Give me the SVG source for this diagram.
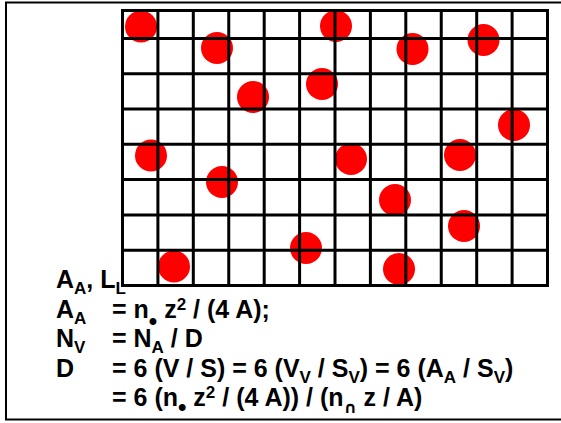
<svg xmlns="http://www.w3.org/2000/svg" width="561" height="423" viewBox="0 0 561 423">
<style>
.frame{fill:#fff;stroke:#000;stroke-width:2}
.dot{fill:#ff0000}
.grid line{stroke:#000;stroke-width:3;stroke-linecap:square}
.t{font-family:"Liberation Sans",Arial,sans-serif;font-weight:bold;font-size:25px;fill:#000}
.sub{font-size:17px}
.sup{font-size:17px}
.bul{font-size:24px}
.cap{font-family:"DejaVu Sans",sans-serif;font-size:16px}
</style>
<rect class="frame" x="6" y="2.5" width="570" height="417"/>
<g id="particles">
<circle class="dot" cx="141" cy="26.5" r="16"/>
<circle class="dot" cx="336" cy="26" r="16"/>
<circle class="dot" cx="217" cy="48" r="16"/>
<circle class="dot" cx="412.5" cy="49" r="16"/>
<circle class="dot" cx="483.5" cy="40" r="16"/>
<circle class="dot" cx="322" cy="84" r="16"/>
<circle class="dot" cx="253" cy="97" r="16"/>
<circle class="dot" cx="514" cy="125" r="16"/>
<circle class="dot" cx="151" cy="155.5" r="16"/>
<circle class="dot" cx="351" cy="159" r="16"/>
<circle class="dot" cx="460" cy="155" r="16"/>
<circle class="dot" cx="222" cy="182" r="16"/>
<circle class="dot" cx="395" cy="200" r="16"/>
<circle class="dot" cx="464" cy="226" r="16"/>
<circle class="dot" cx="306" cy="248" r="16"/>
<circle class="dot" cx="174" cy="266.5" r="16"/>
<circle class="dot" cx="399" cy="269" r="16"/>
</g>
<g id="grid" class="grid">
<line x1="122.5" y1="10.5" x2="122.5" y2="285.5"/>
<line x1="157.9" y1="10.5" x2="157.9" y2="285.5"/>
<line x1="193.3" y1="10.5" x2="193.3" y2="285.5"/>
<line x1="228.75" y1="10.5" x2="228.75" y2="285.5"/>
<line x1="264.2" y1="10.5" x2="264.2" y2="285.5"/>
<line x1="299.6" y1="10.5" x2="299.6" y2="285.5"/>
<line x1="335" y1="10.5" x2="335" y2="285.5"/>
<line x1="370.4" y1="10.5" x2="370.4" y2="285.5"/>
<line x1="405.8" y1="10.5" x2="405.8" y2="285.5"/>
<line x1="441.25" y1="10.5" x2="441.25" y2="285.5"/>
<line x1="476.7" y1="10.5" x2="476.7" y2="285.5"/>
<line x1="512.1" y1="10.5" x2="512.1" y2="285.5"/>
<line x1="547.5" y1="10.5" x2="547.5" y2="285.5"/>
<line x1="122.5" y1="10.5" x2="547.5" y2="10.5"/>
<line x1="122.5" y1="38.4" x2="547.5" y2="38.4"/>
<line x1="122.5" y1="73.7" x2="547.5" y2="73.7"/>
<line x1="122.5" y1="109" x2="547.5" y2="109"/>
<line x1="122.5" y1="144.3" x2="547.5" y2="144.3"/>
<line x1="122.5" y1="179.6" x2="547.5" y2="179.6"/>
<line x1="122.5" y1="214.9" x2="547.5" y2="214.9"/>
<line x1="122.5" y1="250.2" x2="547.5" y2="250.2"/>
<line x1="122.5" y1="285.5" x2="547.5" y2="285.5"/>
</g>
<g id="formulas" class="t">
<text x="56" y="288">A<tspan class="sub" dy="6">A</tspan><tspan dy="-6">, L</tspan><tspan class="sub" dy="6">L</tspan></text>
<text x="56" y="317.5">A<tspan class="sub" dy="6">A</tspan></text>
<text x="112" y="317.5">= n<tspan class="bul" dy="11">•</tspan><tspan dy="-11"> z</tspan><tspan class="sup" dy="-8">2</tspan><tspan dy="8"> / (4 A);</tspan></text>
<text x="56" y="347">N<tspan class="sub" dy="6">V</tspan></text>
<text x="112" y="347">= N<tspan class="sub" dy="6">A</tspan><tspan dy="-6"> / D</tspan></text>
<text x="56" y="376.5">D</text>
<text x="112" y="376.5">= 6 (V / S) = 6 (V<tspan class="sub" dy="6">V</tspan><tspan dy="-6"> / S</tspan><tspan class="sub" dy="6">V</tspan><tspan dy="-6">) = 6 (A</tspan><tspan class="sub" dy="6">A</tspan><tspan dy="-6"> / S</tspan><tspan class="sub" dy="6">V</tspan><tspan dy="-6">)</tspan></text>
<text x="112" y="406">= 6 (n<tspan class="bul" dy="9">•</tspan><tspan dy="-9"> z</tspan><tspan class="sup" dy="-8">2</tspan><tspan dy="8"> / (4 A)) / (n</tspan><tspan class="sub cap" dy="7">∩</tspan><tspan dy="-7"> z / A)</tspan></text>
</g>
</svg>
